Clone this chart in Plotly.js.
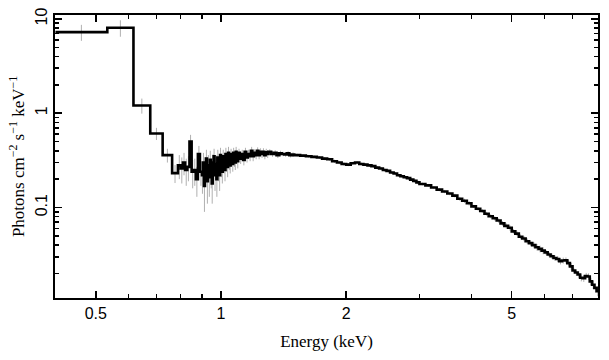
<!DOCTYPE html>
<html>
<head>
<meta charset="utf-8">
<script src="https://cdn.plot.ly/plotly-3.0.1.min.js"></script>
<style>html,body{margin:0;padding:0;background:#fff}#chart{width:609px;height:360px}</style>
</head>
<body>
<div id="chart"></div>
<script>
// Spectrum, split into segments of bins.
// Each segment: low edge of each bin (keV), unfolded flux, 1-sigma error.
var edgesA = [0.40, 0.533, 0.616, 0.676, 0.724, 0.763];
var fluxA  = [7.25, 8.07, 1.21, 0.61, 0.36, 0.232];
var errA   = [1.4, 1.6, 0.22, 0.09, 0.06, 0.05];

var edgesB = [0.788, 0.80, 0.81, 0.82, 0.83, 0.84, 0.85, 0.86, 0.87, 0.88, 0.89];
var fluxB  = [0.28, 0.26, 0.30, 0.25, 0.27, 0.50, 0.24, 0.25, 0.20, 0.37, 0.24];
var errB   = [0.08, 0.08, 0.08, 0.08, 0.08, 0.09, 0.08, 0.08, 0.07, 0.08, 0.07];

var edgesC = [0.900, 0.905, 0.910, 0.915, 0.920, 0.925, 0.930, 0.935, 0.940, 0.945,
              0.950, 0.955, 0.960, 0.965, 0.970, 0.975, 0.980, 0.985, 0.990, 0.995,
              1.000, 1.005, 1.010, 1.015, 1.020, 1.025, 1.030, 1.035, 1.040, 1.045,
              1.050, 1.055, 1.060, 1.065, 1.070, 1.075, 1.080, 1.085, 1.090, 1.095];
var fluxC  = [0.22, 0.30, 0.17, 0.26, 0.33, 0.19, 0.28, 0.21, 0.32, 0.24,
              0.18, 0.30, 0.35, 0.22, 0.29, 0.20, 0.34, 0.26, 0.22, 0.36,
              0.27, 0.24, 0.35, 0.29, 0.25, 0.37, 0.30, 0.27, 0.38, 0.31,
              0.28, 0.37, 0.33, 0.29, 0.38, 0.32, 0.30, 0.39, 0.34, 0.31];
var errC   = [0.08, 0.08, 0.08, 0.08, 0.08, 0.08, 0.08, 0.08, 0.08, 0.08,
              0.07, 0.07, 0.07, 0.07, 0.07, 0.07, 0.07, 0.07, 0.07, 0.07,
              0.06, 0.06, 0.06, 0.06, 0.06, 0.06, 0.06, 0.06, 0.06, 0.06,
              0.05, 0.05, 0.05, 0.05, 0.05, 0.05, 0.05, 0.05, 0.05, 0.05];

var edgesD = [1.10, 1.11, 1.12, 1.13, 1.14, 1.15, 1.16, 1.17, 1.18, 1.19,
              1.20, 1.21, 1.22, 1.23, 1.24, 1.25, 1.26, 1.27, 1.28, 1.29];
var fluxD  = [0.38, 0.33, 0.37, 0.32, 0.39, 0.34, 0.37, 0.35, 0.40, 0.35,
              0.38, 0.36, 0.40, 0.36, 0.39, 0.37, 0.39, 0.36, 0.385, 0.37];
var errD   = [0.04, 0.04, 0.04, 0.04, 0.04, 0.04, 0.04, 0.04, 0.04, 0.04,
              0.035, 0.035, 0.035, 0.035, 0.035, 0.035, 0.035, 0.035, 0.035, 0.035];

var edgesE = [1.30, 1.32, 1.34, 1.36, 1.38, 1.40, 1.42, 1.44, 1.46, 1.48];
var fluxE  = [0.39, 0.37, 0.38, 0.36, 0.375, 0.37, 0.365, 0.375, 0.36, 0.365];
var errE   = [0.025, 0.025, 0.025, 0.025, 0.025, 0.02, 0.02, 0.02, 0.02, 0.02];

var edgesF = [1.50, 1.55, 1.60, 1.65, 1.70, 1.75, 1.80, 1.85, 1.90, 1.95,
              2.00, 2.05, 2.10, 2.15, 2.20, 2.25, 2.30, 2.35, 2.40, 2.45,
              2.50, 2.55, 2.60, 2.65, 2.70, 2.75, 2.80, 2.85, 2.90, 2.95];
var fluxF  = [0.36, 0.355, 0.35, 0.345, 0.34, 0.33, 0.325, 0.31, 0.30, 0.29,
              0.285, 0.295, 0.30, 0.29, 0.285, 0.28, 0.275, 0.265, 0.26, 0.25,
              0.245, 0.235, 0.23, 0.22, 0.215, 0.21, 0.205, 0.198, 0.192, 0.185];
var errF   = [0.012, 0.012, 0.012, 0.012, 0.012, 0.012, 0.012, 0.012, 0.012, 0.012,
              0.01, 0.01, 0.01, 0.01, 0.01, 0.01, 0.01, 0.01, 0.01, 0.01,
              0.008, 0.008, 0.008, 0.008, 0.008, 0.008, 0.008, 0.008, 0.008, 0.008];

var edgesG = [3.0, 3.1, 3.2, 3.3, 3.4, 3.5, 3.6, 3.7, 3.8, 3.9,
              4.0, 4.1, 4.2, 4.3, 4.4, 4.5, 4.6, 4.7, 4.8, 4.9,
              5.0, 5.1, 5.2, 5.3, 5.4, 5.5, 5.6, 5.7, 5.8, 5.9,
              6.0, 6.1, 6.2, 6.3, 6.4, 6.5, 6.6, 6.7, 6.8, 6.9,
              7.0, 7.1, 7.2, 7.3, 7.4, 7.5, 7.6, 7.7, 7.8, 7.9, 8.0];
var fluxG  = [0.178, 0.172, 0.163, 0.155, 0.148, 0.141, 0.134, 0.124, 0.118, 0.111,
              0.103, 0.097, 0.092, 0.086, 0.081, 0.077, 0.073, 0.068, 0.064, 0.061,
              0.056, 0.053, 0.049, 0.047, 0.044, 0.042, 0.040, 0.038, 0.0365, 0.0350,
              0.0335, 0.0318, 0.0305, 0.0292, 0.0285, 0.0270, 0.0275, 0.0276, 0.0258, 0.0238,
              0.0215, 0.0205, 0.0195, 0.0180, 0.0178, 0.0188, 0.0186, 0.0165, 0.0152, 0.0141, 0.0130];
var errG   = [0.006, 0.006, 0.006, 0.006, 0.006, 0.006, 0.006, 0.006, 0.006, 0.006,
              0.004, 0.004, 0.004, 0.004, 0.004, 0.004, 0.004, 0.004, 0.004, 0.004,
              0.003, 0.003, 0.003, 0.003, 0.003, 0.003, 0.003, 0.003, 0.003, 0.003,
              0.002, 0.002, 0.002, 0.002, 0.002, 0.002, 0.002, 0.002, 0.002, 0.002,
              0.0015, 0.0015, 0.0015, 0.0015, 0.0015, 0.0015, 0.0015, 0.0015, 0.0015, 0.0015, 0.0015];
var lastEdge = 8.10;

var xTickVals = [0.5, 1, 2, 5];
var xTickText = ['0.5', '1', '2', '5'];
var xMinorVals = [0.6, 0.7, 0.8, 0.9, 3, 4, 6, 7];
var yTickVals = [0.1, 1, 10];
var yTickText = ['0.1', '1', '10'];
var yMinorVals = [0.02, 0.03, 0.04, 0.05, 0.06, 0.07, 0.08, 0.09,
  0.2, 0.3, 0.4, 0.5, 0.6, 0.7, 0.8, 0.9, 2, 3, 4, 5, 6, 7, 8, 9];

// A bin's upper edge is the next bin's low edge; the gap 0.763-0.788 is closed by bin A's last step.
var binLo = [].concat(edgesA, edgesB, edgesC, edgesD, edgesE, edgesF, edgesG);
var flux = [].concat(fluxA, fluxB, fluxC, fluxD, fluxE, fluxF, fluxG);
var fluxErr = [].concat(errA, errB, errC, errD, errE, errF, errG);
var binHi = binLo.slice(1).concat([lastEdge]);

var stepX = binLo.concat([lastEdge]);
var stepY = flux.concat([flux[flux.length - 1]]);
var centers = [];
for (var i = 0; i < flux.length; i++) {
  centers.push(Math.sqrt(binLo[i] * binHi[i]));
}

var errTrace = {
  x: centers, y: flux, type: 'scatter', mode: 'markers',
  marker: {size: 1, color: 'rgba(0,0,0,0)'},
  error_y: {type: 'data', array: fluxErr, visible: true, color: '#b0b0b0', thickness: 1, width: 0},
  hoverinfo: 'skip', showlegend: false
};
var stepTrace = {
  x: stepX, y: stepY, type: 'scatter', mode: 'lines',
  line: {shape: 'hv', color: '#000', width: 2.6},
  showlegend: false
};

var axisCommon = {
  type: 'log', showline: true, linecolor: '#000', linewidth: 2, mirror: 'ticks',
  ticks: 'inside', ticklen: 7, tickwidth: 1.5, tickcolor: '#000',
  showgrid: false, zeroline: false,
  tickfont: {family: 'Liberation Sans, Arial, sans-serif', size: 16, color: '#000'}
};
var titleFont = {family: 'Liberation Serif, Times New Roman, serif', size: 17, color: '#000'};

var layout = {
  width: 609, height: 360,
  margin: {l: 55, r: 11, t: 15, b: 62},
  paper_bgcolor: '#fff', plot_bgcolor: '#fff',
  showlegend: false,
  xaxis: Object.assign({}, axisCommon, {
    range: [Math.log10(0.399), Math.log10(8.06)],
    tickmode: 'array', tickvals: xTickVals, ticktext: xTickText,
    minor: {tickmode: 'array', tickvals: xMinorVals, ticks: 'inside', ticklen: 4, tickwidth: 1.5, tickcolor: '#000'},
    title: {text: 'Energy (keV)', font: titleFont, standoff: 14}
  }),
  yaxis: Object.assign({}, axisCommon, {
    range: [Math.log10(0.0110), Math.log10(11.0)],
    tickmode: 'array', tickvals: yTickVals, ticktext: yTickText, tickangle: -90,
    minor: {tickmode: 'array', tickvals: yMinorVals, ticks: 'inside', ticklen: 4, tickwidth: 1.5, tickcolor: '#000'},
    title: {text: 'Photons cm<sup>\u22122</sup> s<sup>\u22121</sup> keV<sup>\u22121</sup>', font: titleFont, standoff: 4}
  })
};

Plotly.newPlot('chart', [errTrace, stepTrace], layout, {staticPlot: true, displayModeBar: false});
</script>
</body>
</html>
